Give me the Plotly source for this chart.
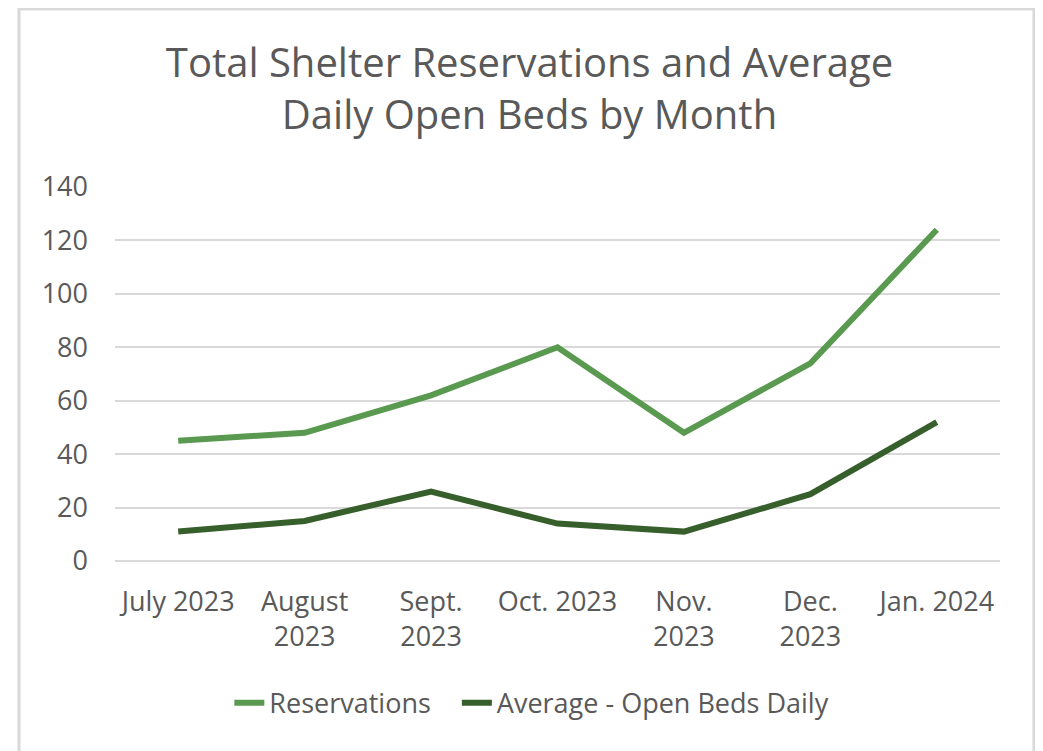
import plotly.graph_objects as go

# Month labels (wrapped as in the original chart)
MONTHS = [
    "July 2023",
    "August<br>2023",
    "Sept.<br>2023",
    "Oct. 2023",
    "Nov.<br>2023",
    "Dec.<br>2023",
    "Jan. 2024",
]

RESERVATIONS = [45, 48, 62, 80, 48, 74, 124]
OPEN_BEDS_DAILY = [11, 15, 26, 14, 11, 25, 52]

Y_TICKS = [0, 20, 40, 60, 80, 100, 120, 140]

# Colours
RES_COLOR = "#5a9a50"
BEDS_COLOR = "#375f2c"
TEXT_COLOR = "#595959"
GRID_COLOR = "#d9d9d9"
FONT = "Open Sans"

fig = go.Figure()

fig.add_trace(go.Scatter(
    x=MONTHS, y=RESERVATIONS, name="Reservations   ", mode="lines",
    line=dict(color=RES_COLOR, width=6),
))
fig.add_trace(go.Scatter(
    x=MONTHS, y=OPEN_BEDS_DAILY, name="Average - Open Beds Daily", mode="lines",
    line=dict(color=BEDS_COLOR, width=6),
))

# the page adds an 8px body margin, so margins are shifted to compensate
fig.update_layout(
    width=1043,
    height=751,
    margin=dict(l=107, r=51, t=179, b=198),
    paper_bgcolor="white",
    plot_bgcolor="white",
    font=dict(family=FONT, color=TEXT_COLOR, size=27),
    title=dict(
        text="Total Shelter Reservations and Average<br>Daily Open Beds by Month",
        x=0.5, xref="container", xanchor="center",
        y=0.908, yref="container", yanchor="middle",
        font=dict(family=FONT, size=40, color=TEXT_COLOR),
    ),
    showlegend=True,
    legend=dict(
        orientation="h",
        x=0.471, xanchor="center",
        y=-0.38, yanchor="middle",
        font=dict(size=27, color=TEXT_COLOR),
    ),
    xaxis=dict(
        type="category",
        range=[-0.5, 6.5],
        showgrid=False,
        showline=False,
        zeroline=False,
        ticks="",
        ticklabelstandoff=22,
        tickfont=dict(size=27, color=TEXT_COLOR),
    ),
    yaxis=dict(
        range=[0, 140],
        tickvals=Y_TICKS,
        showgrid=True,
        gridcolor=GRID_COLOR,
        gridwidth=2,
        zeroline=True,
        zerolinecolor=GRID_COLOR,
        zerolinewidth=2,
        showline=False,
        ticks="",
        ticklabelstandoff=26,
        tickfont=dict(size=27, color=TEXT_COLOR),
    ),
    shapes=[
        dict(
            type="rect", xref="paper", yref="paper",
            x0=-0.1085, x1=1.0384, y0=-0.53, y1=1.476,
            line=dict(color=GRID_COLOR, width=3),
            fillcolor="rgba(0,0,0,0)",
            layer="below",
        )
    ],
)

fig.write_html("out.html")
